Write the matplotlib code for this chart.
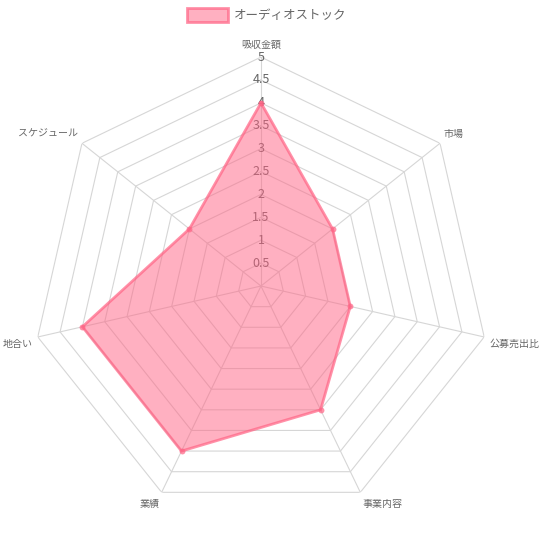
import numpy as np
import matplotlib
matplotlib.use("Agg")
import matplotlib.pyplot as plt
from matplotlib.patches import Rectangle

plt.rcParams['font.family'] = ['Noto Sans CJK JP', 'DejaVu Sans']

categories = ['吸収金額', '市場', '公募売出比', '事業内容', '業績', '地合い', 'スケジュール']
values = [4, 2, 2, 3, 4, 4, 2]
series_name = 'オーディオストック'
ticks = [0.5, 1, 1.5, 2, 2.5, 3, 3.5, 4, 4.5, 5]
rmax = 5

fill_col = (1.0, 99 / 255, 132 / 255, 0.5)
line_col = (1.0, 99 / 255, 132 / 255, 0.7)
grid_col = '#d6d6d6'
text_col = '#666666'

n = len(categories)
angles = np.arange(n) * 2 * np.pi / n
closed = np.append(angles, angles[0])

fig = plt.figure(figsize=(5.4, 5.4), dpi=100)
ax = fig.add_axes([0.0593, 0.0463, 0.848, 0.848], projection='polar')
ax.set_theta_zero_location('N')
ax.set_theta_direction(-1)
ax.set_ylim(0, rmax)
ax.grid(False)
ax.spines['polar'].set_visible(False)
ax.set_xticks([])
ax.set_yticks([])
ax.patch.set_alpha(0)

# polygon grid + spokes
for t in ticks:
    ax.plot(closed, [t] * (n + 1), color=grid_col, lw=0.8, zorder=1)
for a in angles:
    ax.plot([a, a], [0, rmax], color=grid_col, lw=0.8, zorder=1)

# tick labels (under the fill, as in the reference)
for t in ticks:
    ax.text(0, t, f'{t:g}', ha='center', va='center', fontsize=9,
            color=text_col, zorder=2)

# data
vals = np.append(values, values[0])
ax.fill(closed, vals, color=fill_col, zorder=3, lw=0)
ax.plot(closed, vals, color=line_col, lw=2, zorder=4)
ax.scatter(angles, values, s=18, color=line_col, zorder=5, lw=0)

# point labels
for a, lab in zip(angles, categories):
    deg = np.degrees(a)
    dx = 5 * np.sin(a)
    dy = 7 * np.cos(a)
    if abs(deg) < 1 or abs(deg - 180) < 1:
        ha = 'center'
    elif deg < 180:
        ha = 'left'
    else:
        ha = 'right'
    if np.cos(a) > 0.05:
        va = 'bottom'
    elif np.cos(a) < -0.05:
        va = 'top'
    else:
        va = 'center'
    ax.annotate(lab, xy=(a, rmax), xytext=(dx, dy), textcoords='offset pixels',
                ha=ha, va=va, fontsize=7.2, color=text_col, zorder=6,
                annotation_clip=False)

# legend
fig.patches.append(Rectangle((187 / 540, 1 - 22 / 540), 41 / 540, 14 / 540,
                             transform=fig.transFigure, facecolor=fill_col,
                             edgecolor=line_col, lw=2))
fig.text(234 / 540, 1 - 15 / 540, series_name, ha='left', va='center',
         fontsize=9, color=text_col)

fig.savefig('out.png', dpi=100)
